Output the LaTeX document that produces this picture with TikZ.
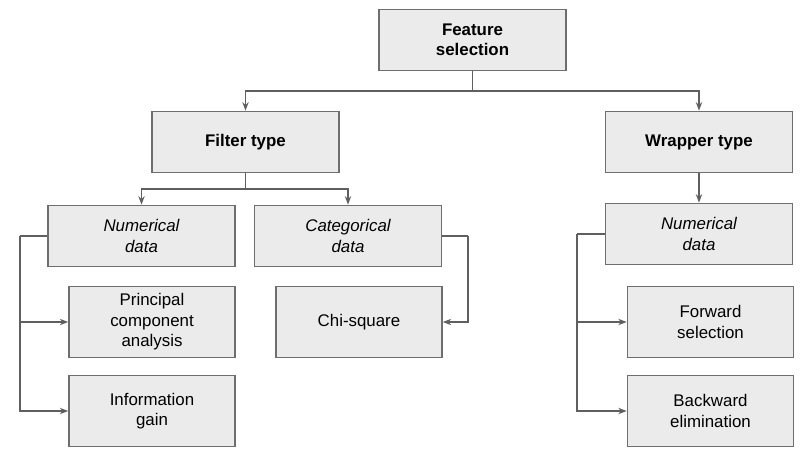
\documentclass[tikz,border=0pt]{standalone}
\usepackage{fontspec}
\setmainfont{Liberation Sans}
\usepackage{tikz}
\usetikzlibrary{arrows.meta, calc, positioning}
\usepackage{xcolor}
\definecolor{boxfill}{RGB}{235, 235, 235}
\definecolor{boxline}{RGB}{110, 110, 110}
\definecolor{linkgray}{RGB}{95, 95, 95}

\begin{document}
\begin{tikzpicture}[x=0.025cm, y=-0.025cm,
				wide/.style={draw=boxline, fill=boxfill, line width=1.1pt, align=center,
					minimum width=4.675cm, minimum height=1.53cm, inner sep=2pt,
					font=\fontsize{12}{14.5}\selectfont},
				leaf/.style={wide, minimum width=4.15cm, minimum height=1.78cm},
				link/.style={linkgray, line width=1pt},
				arr/.style={link, -{Stealth[length=6pt, width=4.5pt]}}]
				
				\useasboundingbox (0,0) rectangle (812,456);
				
				%--- Top levels ---
				\node[wide] (feat) at (472.5,40) {\bfseries Feature\\\bfseries selection};
				\node[wide] (filter) at (245.5,142) {\bfseries Filter type};
				\node[wide] (wrapper) at (699,142) {\bfseries Wrapper type};
				
				%--- Data kinds ---
				\node[wide] (numL) at (141.5,236) {\itshape Numerical\\\itshape data};
				\node[wide] (cat) at (348,236) {\itshape Categorical\\\itshape data};
				\node[wide] (numR) at (699,234) {\itshape Numerical\\\itshape data};
				
				%--- Methods ---
				\node[leaf] (pca) at (152,322) {Principal\\component\\analysis};
				\node[leaf] (info) at (152,411) {Information\\gain};
				\node[leaf] (chi) at (359,322) {Chi-square};
				\node[leaf] (fwd) at (710.5,322) {Forward\\selection};
				\node[leaf] (bwd) at (710.5,411) {Backward\\elimination};
				
				%--- Connectors ---
				\coordinate (fsplit) at (472.5,91);
				\draw[link] (feat) -- (fsplit);
				\draw[arr] (fsplit) -| (filter);
				\draw[arr] (fsplit) -| (wrapper);
				
				\coordinate (tsplit) at (245.5,189);
				\draw[link] (filter) -- (tsplit);
				\draw[arr] (tsplit) -| (numL);
				\draw[arr] (tsplit) -| (cat);
				
				\draw[arr] (wrapper) -- (numR);
				
				\coordinate (lbus) at (20,236);
				\draw[link] (numL.west) -- (lbus);
				\draw[arr] (lbus) |- (pca.west);
				\draw[arr] (lbus) |- (info.west);
				
				\coordinate (cbus) at (468,236);
				\draw[link] (cat.east) -- (cbus);
				\draw[arr] (cbus) |- (chi.east);
				
				\coordinate (rbus) at (577,234);
				\draw[link] (numR.west) -- (rbus);
				\draw[arr] (rbus) |- (fwd.west);
				\draw[arr] (rbus) |- (bwd.west);
			\end{tikzpicture}
\end{document}
